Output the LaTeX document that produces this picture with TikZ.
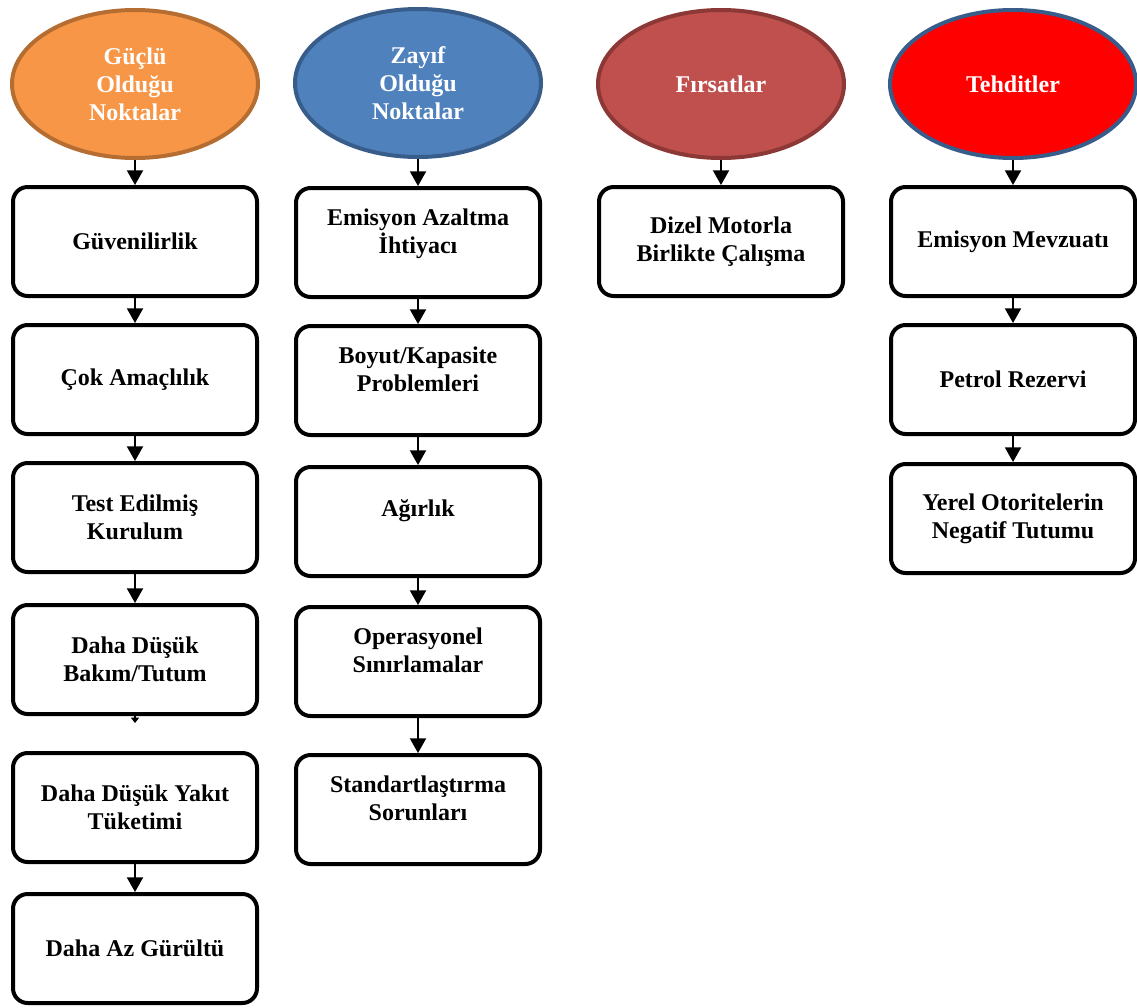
\documentclass[tikz,border=0pt]{standalone}
\usepackage{fontspec}
\setmainfont{Liberation Serif}
\usepackage{tikz}
\usetikzlibrary{arrows.meta,positioning,shapes.geometric}
\definecolor{gucfill}{HTML}{F79646}
\definecolor{gucedge}{HTML}{B66D31}
\definecolor{zayfill}{HTML}{4F81BD}
\definecolor{zayedge}{HTML}{385D8A}
\definecolor{firfill}{HTML}{C0504D}
\definecolor{firedge}{HTML}{8C3836}
\definecolor{tehfill}{HTML}{FF0000}

\begin{document}
\begin{tikzpicture}[x=0.75pt,y=-0.75pt,>={Triangle[width=12pt,length=11pt]},node distance=18.75pt]
  \tikzstyle{head}=[ellipse,line width=3pt,minimum width=184.5pt,minimum height=111pt,inner sep=0pt,align=center,text=white,font=\fontsize{18}{21}\selectfont\bfseries]
  \tikzstyle{item}=[rectangle,rounded corners=11pt,draw=black,fill=white,line width=3pt,minimum width=183pt,minimum height=81.75pt,inner sep=0pt,align=center,font=\fontsize{18}{21}\selectfont\bfseries]
  \tikzstyle{itemhi}=[item,text depth=17pt]
  \tikzstyle{link}=[->,line width=1.5pt]
  \useasboundingbox (0,0) rectangle (1137,1007);
  % Güçlü yönler
  \node[head,fill=gucfill,draw=gucedge] (g0) at (135,84) {Güçlü\\Olduğu\\Noktalar};
  \node[item,below=of g0] (g1) {Güvenilirlik};
  \node[item,below=of g1] (g2) {Çok Amaçlılık};
  \node[item,below=of g2] (g3) {Test Edilmiş\\Kurulum};
  \node[item,below=21.75pt of g3] (g4) {Daha Düşük\\Bakım/Tutum};
  \node[item,below=26.25pt of g4] (g5) {Daha Düşük Yakıt\\Tüketimi};
  \node[item,below=21pt of g5] (g6) {Daha Az Gürültü};
  % Zayıf yönler
  \node[head,fill=zayfill,draw=zayedge] (z0) at (418,83) {Zayıf\\Olduğu\\Noktalar};
  \node[itemhi,below=20.25pt of z0] (z1) {Emisyon Azaltma\\İhtiyacı};
  \node[itemhi,below=of z1] (z2) {Boyut/Kapasite\\Problemleri};
  \node[itemhi,text depth=20pt,below=21pt of z2] (z3) {Ağırlık};
  \node[itemhi,below=20.25pt of z3] (z4) {Operasyonel\\Sınırlamalar};
  \node[itemhi,below=26.25pt of z4] (z5) {Standartlaştırma\\Sorunları};
  % Fırsatlar
  \node[head,fill=firfill,draw=firedge] (f0) at (721,84) {Fırsatlar};
  \node[item,below=of f0] (f1) {Dizel Motorla\\Birlikte Çalışma};
  % Tehditler
  \node[head,fill=tehfill,draw=zayedge] (t0) at (1013,84) {Tehditler};
  \node[item,below=of t0] (t1) {Emisyon Mevzuatı};
  \node[item,below=of t1] (t2) {Petrol Rezervi};
  \node[item,below=19.5pt of t2] (t3) {Yerel Otoritelerin\\Negatif Tutumu};
  % oklar
  \draw[link] (g0)--(g1);
  \draw[link] (g1)--(g2);
  \draw[link] (g2)--(g3);
  \draw[link] (g3)--(g4);
  \draw[->,>={Triangle[width=6pt,length=4pt]},line width=1.5pt,shorten >=21pt] (g4)--(g5);
  \draw[link] (g5)--(g6);
  \draw[link] (z0)--(z1);
  \draw[link] (z1)--(z2);
  \draw[link] (z2)--(z3);
  \draw[link] (z3)--(z4);
  \draw[link] (z4)--(z5);
  \draw[link] (f0)--(f1);
  \draw[link] (t0)--(t1);
  \draw[link] (t1)--(t2);
  \draw[link] (t2)--(t3);
\end{tikzpicture}
\end{document}
